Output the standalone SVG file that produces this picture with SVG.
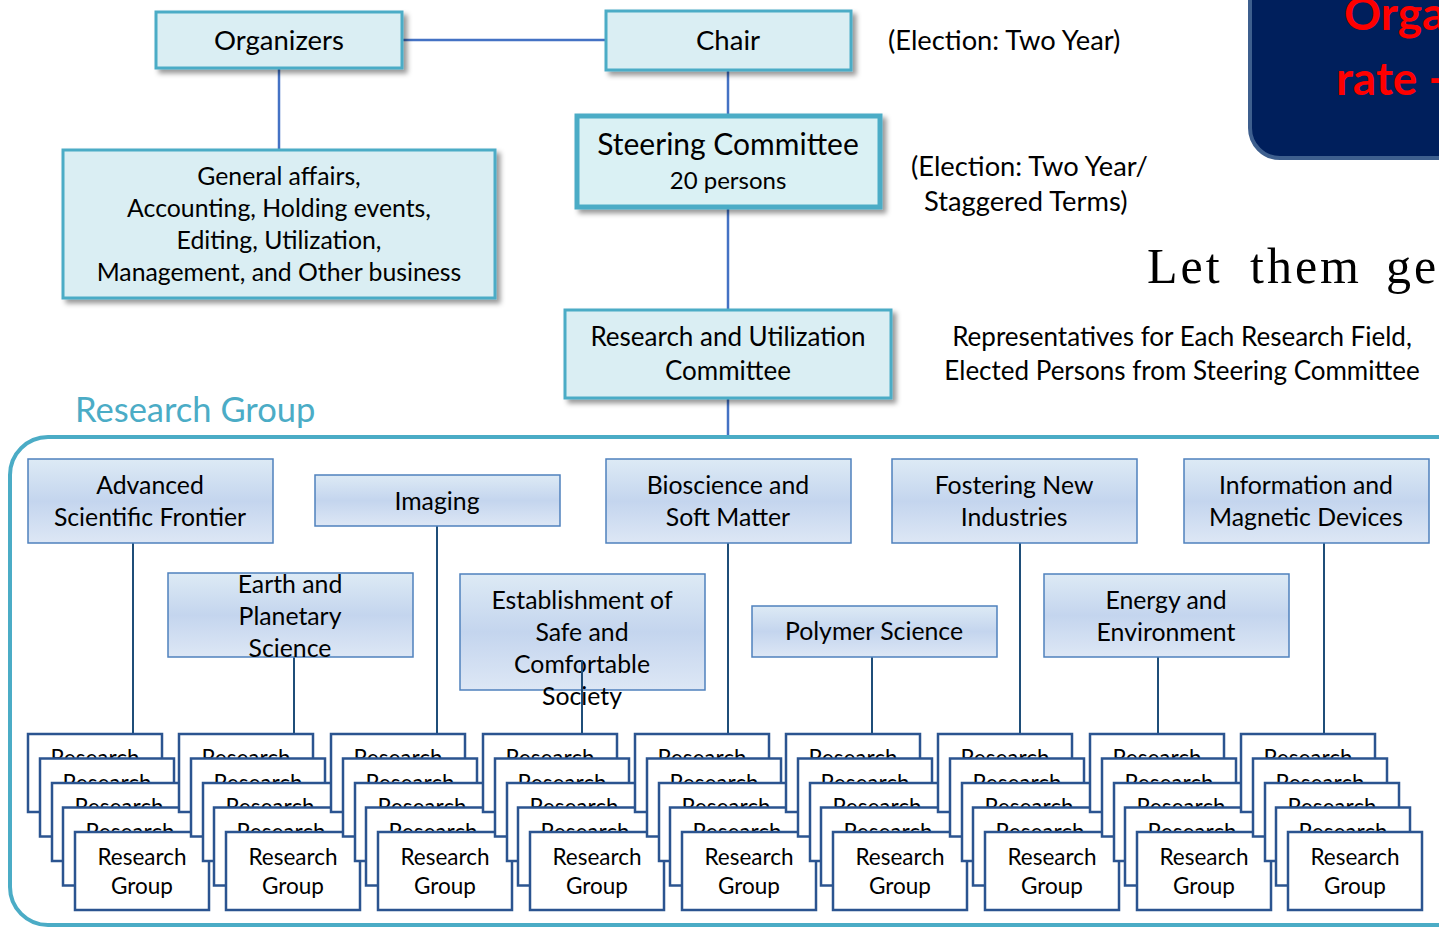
<svg xmlns="http://www.w3.org/2000/svg" width="1439" height="928" viewBox="0 0 1439 928">
<style>
text{font-family:Lato,"Open Sans","Liberation Sans",sans-serif;fill:#000}
.top{fill:#DAEEF3;stroke:#4BACC6;stroke-width:3}
.t26{font-size:27.5px;text-anchor:middle}
.t24{font-size:26px;text-anchor:middle}
.t23{font-size:24.8px;text-anchor:middle}
.tc{font-size:24.8px;text-anchor:middle}
.note{font-size:27.3px}
.cat{fill:url(#catg);stroke:#4F81BD;stroke-width:1.5}
.rg{fill:#fff;stroke:#2B5490;stroke-width:2.5}
.rgt{font-size:22.5px;text-anchor:middle}
.c1{stroke:#4472C4;stroke-width:2.5;fill:none}
.c2{stroke:#1F4E79;stroke-width:2;fill:none}
</style>
<defs>
<linearGradient id="catg" x1="0" y1="0" x2="0" y2="1">
<stop offset="0" stop-color="#DDEAF5"/>
<stop offset="0.5" stop-color="#C4D5EE"/>
<stop offset="1" stop-color="#DDE7F5"/>
</linearGradient>
<filter id="sh" x="-10%" y="-10%" width="125%" height="135%">
<feDropShadow dx="4" dy="4" stdDeviation="2.5" flood-color="#000" flood-opacity="0.4"/>
</filter>
<g id="stack">
<rect class="rg" x="0" y="0" width="134" height="78"/>
<text class="rgt" x="67" y="32">Research</text>
<rect class="rg" x="12" y="24.5" width="134" height="78"/>
<text class="rgt" x="79" y="56.5">Research</text>
<rect class="rg" x="24" y="49" width="134" height="78"/>
<text class="rgt" x="91" y="81">Research</text>
<rect class="rg" x="35" y="73.5" width="134" height="78"/>
<text class="rgt" x="102" y="105.5">Research</text>
<rect class="rg" x="47" y="98" width="134" height="78"/>
<text class="rgt" x="114" y="131">Research</text>
<text class="rgt" x="114" y="160">Group</text>
</g>
</defs>
<rect width="1439" height="928" fill="#fff"/>

<g id="banner">
<rect x="1250" y="-40" width="260" height="198" rx="30" fill="#001F5C" stroke="#3E5F8E" stroke-width="4"/>
<text x="1344" y="30" style="font-size:46px;font-weight:bold;fill:#FF0000">Orga</text>
<text x="1336" y="95" style="font-size:46px;font-weight:bold;fill:#FF0000">rate -</text>
</g>

<g id="connectors">
<line class="c1" x1="402" y1="40" x2="606" y2="40"/>
<line class="c1" x1="279" y1="68" x2="279" y2="150"/>
<line class="c1" x1="728" y1="70" x2="728" y2="115"/>
<line class="c1" x1="728" y1="208" x2="728" y2="310"/>
<line class="c1" x1="728" y1="398" x2="728" y2="437"/>
<line class="c2" x1="133" y1="543" x2="133" y2="734"/>
<line class="c2" x1="294" y1="657" x2="294" y2="734"/>
<line class="c2" x1="437" y1="526" x2="437" y2="734"/>
<line class="c2" x1="728" y1="543" x2="728" y2="734"/>
<line class="c2" x1="872" y1="657" x2="872" y2="734"/>
<line class="c2" x1="1020" y1="543" x2="1020" y2="734"/>
<line class="c2" x1="1158" y1="657" x2="1158" y2="734"/>
<line class="c2" x1="1324" y1="543" x2="1324" y2="734"/>
</g>

<g id="organizers">
<rect class="top" x="156" y="12" width="246" height="56" filter="url(#sh)"/>
<text class="t26" x="279" y="50">Organizers</text>
</g>
<g id="chair">
<rect class="top" x="606" y="11" width="245" height="59" filter="url(#sh)"/>
<text class="t26" x="728" y="50">Chair</text>
</g>
<text class="note" x="888" y="50">(Election: Two Year)</text>

<g id="general">
<rect class="top" x="63" y="150" width="432" height="148" stroke-width="2" filter="url(#sh)"/>
<text class="t23" x="279" y="185">General affairs,</text>
<text class="t23" x="279" y="217">Accounting, Holding events,</text>
<text class="t23" x="279" y="249">Editing, Utilization,</text>
<text class="t23" x="279" y="281">Management, and Other business</text>
</g>

<g id="steering">
<rect x="577" y="116" width="303" height="91" fill="#DAF1F4" stroke="#4BACC6" stroke-width="5" filter="url(#sh)"/>
<text x="728" y="155" style="font-size:30px;text-anchor:middle">Steering Committee</text>
<text x="728" y="189" style="font-size:24px;text-anchor:middle">20 persons</text>
</g>
<text class="note" x="911" y="176">(Election: Two Year/</text>
<text class="note" x="924" y="211">Staggered Terms)</text>

<text x="1147" y="283" style="font-family:'Liberation Serif',serif;font-size:50px" letter-spacing="3"><tspan x="1147">Let</tspan><tspan x="1250">them</tspan><tspan x="1386">ge</tspan></text>

<g id="ruc">
<rect class="top" x="565" y="310" width="326" height="88" filter="url(#sh)"/>
<text class="t24" x="728" y="346">Research and Utilization</text>
<text class="t24" x="728" y="380">Committee</text>
</g>
<text class="t24" x="1182" y="346">Representatives for Each Research Field,</text>
<text class="t24" x="1182" y="380">Elected Persons from Steering Committee</text>

<text x="75" y="422" style="font-size:34.5px;fill:#4BACC6">Research Group</text>
<rect id="container" x="10" y="437" width="1480" height="488" rx="38" fill="none" stroke="#4BACC6" stroke-width="4"/>

<g id="cat-advanced"><rect class="cat" x="28" y="459" width="245" height="84"/>
<text class="tc" x="150" y="494">Advanced</text><text class="tc" x="150" y="526">Scientific Frontier</text></g>
<g id="cat-imaging"><rect class="cat" x="315" y="475" width="245" height="51"/>
<text class="tc" x="437" y="510">Imaging</text></g>
<g id="cat-bio"><rect class="cat" x="606" y="459" width="245" height="84"/>
<text class="tc" x="728" y="494">Bioscience and</text><text class="tc" x="728" y="526">Soft Matter</text></g>
<g id="cat-fostering"><rect class="cat" x="892" y="459" width="245" height="84"/>
<text class="tc" x="1014" y="494">Fostering New</text><text class="tc" x="1014" y="526">Industries</text></g>
<g id="cat-info"><rect class="cat" x="1184" y="459" width="245" height="84"/>
<text class="tc" x="1306" y="494">Information and</text><text class="tc" x="1306" y="526">Magnetic Devices</text></g>
<g id="cat-earth"><rect class="cat" x="168" y="573" width="245" height="84"/>
<text class="tc" x="290" y="593">Earth and</text><text class="tc" x="290" y="625">Planetary</text><text class="tc" x="290" y="657">Science</text></g>
<g id="cat-safe"><rect class="cat" x="460" y="574" width="245" height="116"/>
<text class="tc" x="582" y="609">Establishment of</text><text class="tc" x="582" y="641">Safe and</text><text class="tc" x="582" y="673">Comfortable</text><text class="tc" x="582" y="705">Society</text></g>
<line class="c2" x1="582" y1="660" x2="582" y2="734"/>
<g id="cat-polymer"><rect class="cat" x="752" y="606" width="245" height="51"/>
<text class="tc" x="874" y="640">Polymer Science</text></g>
<g id="cat-energy"><rect class="cat" x="1044" y="574" width="245" height="83"/>
<text class="tc" x="1166" y="609">Energy and</text><text class="tc" x="1166" y="641">Environment</text></g>

<g id="groups">
<use href="#stack" x="28" y="734"/>
<use href="#stack" x="179" y="734"/>
<use href="#stack" x="331" y="734"/>
<use href="#stack" x="483" y="734"/>
<use href="#stack" x="635" y="734"/>
<use href="#stack" x="786" y="734"/>
<use href="#stack" x="938" y="734"/>
<use href="#stack" x="1090" y="734"/>
<use href="#stack" x="1241" y="734"/>
</g>
</svg>
